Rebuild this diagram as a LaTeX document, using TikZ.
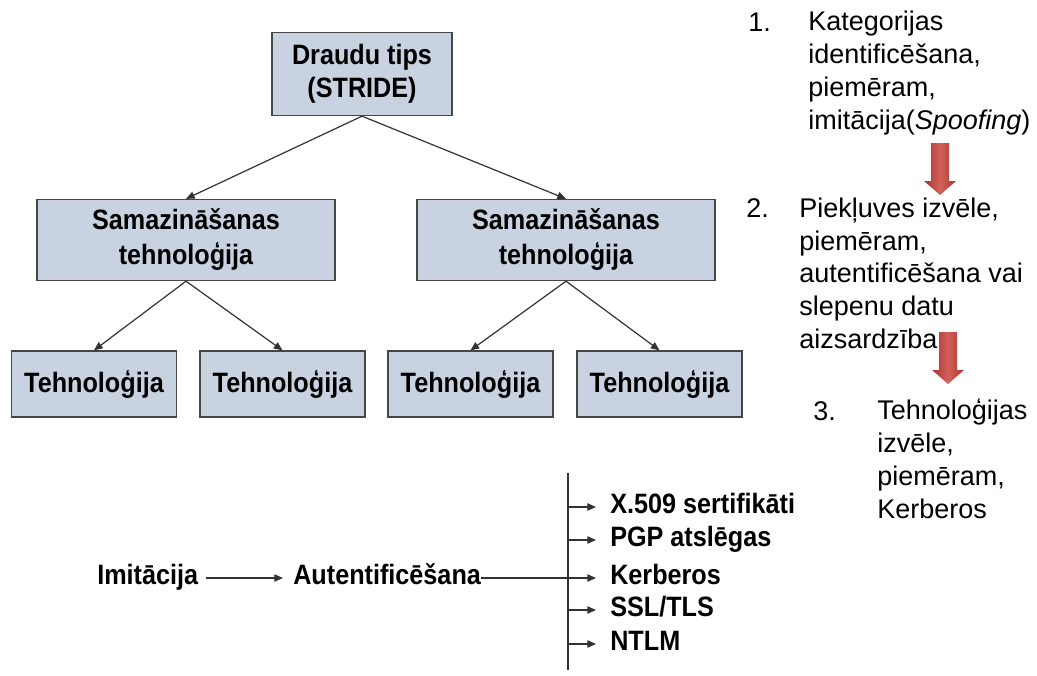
\documentclass[tikz,border=0pt]{standalone}
\usepackage{fontspec}
\setmainfont{Liberation Sans}
\newfontfamily\narrowbold[FakeStretch=0.9]{Liberation Sans Bold}
\usetikzlibrary{arrows.meta}
\definecolor{boxfill}{RGB}{200,210,224}
\definecolor{boxline}{RGB}{70,70,70}
\definecolor{wire}{RGB}{50,50,50}
\definecolor{arrowlight}{RGB}{212,96,90}
\definecolor{arrowdark}{RGB}{168,52,48}

\begin{document}
\begin{tikzpicture}[x=0.75pt,y=-0.75pt,
  treebox/.style={draw=boxline, line width=1pt, fill=boxfill, inner sep=0pt, align=center},
  topbox/.style={treebox, minimum width=135pt, minimum height=62.25pt,
    font=\narrowbold\fontsize{21}{24.75}\selectfont},
  midbox/.style={treebox, minimum width=223.5pt, minimum height=60.75pt,
    font=\narrowbold\fontsize{21}{26.25}\selectfont},
  leafbox/.style={treebox, minimum width=123.75pt, minimum height=49.5pt,
    font=\narrowbold\fontsize{21}{25}\selectfont},
  wirearrow/.style={draw=wire, line width=0.9pt, -{Triangle[length=6.5pt,width=5.5pt]}},
  wireline/.style={draw=wire, line width=0.9pt},
  note/.style={font=\fontsize{20.25}{24.6}\selectfont, inner sep=0pt, align=left, anchor=north west},
  notenum/.style={font=\fontsize{20.25}{24.6}\selectfont, inner sep=0pt, anchor=base west},
  flow/.style={font=\narrowbold\fontsize{21}{25}\selectfont, inner sep=0pt,
    text height=13.5pt, text depth=4.5pt, anchor=west},
  downarrow/.pic={
    \shade[left color=arrowdark, right color=arrowdark, middle color=arrowlight]
      (-9,0) -- (9,0) -- (9,38) -- (16,38) -- (0,52) -- (-16,38) -- (-9,38) -- cycle;
  }
]
\useasboundingbox (0,0) rectangle (1037,675);

% threat tree
\node[topbox] (top) at (362,74) {Draudu tips\\(STRIDE)};
\node[midbox] (m1) at (186,240) {Samazināšanas\\tehnoloģija};
\node[midbox] (m2) at (566,240) {Samazināšanas\\tehnoloģija};
\node[leafbox] (b1) at (94,384) {Tehnoloģija};
\node[leafbox] (b2) at (282.5,384) {Tehnoloģija};
\node[leafbox] (b3) at (470.5,384) {Tehnoloģija};
\node[leafbox] (b4) at (659.5,384) {Tehnoloģija};

\draw[wirearrow] (top.south) -- (m1.north);
\draw[wirearrow] (top.south) -- (m2.north);
\draw[wirearrow] (m1.south) -- (b1.north);
\draw[wirearrow] (m1.south) -- (b2.north);
\draw[wirearrow] (m2.south) -- (b3.north);
\draw[wirearrow] (m2.south) -- (b4.north);

% numbered steps
\node[notenum] (k1) at (748,31) {1.};
\node[note] (n1) at (808,11) {Kategorijas\\identificēšana,\\piemēram,\\imitācija(\textit{Spoofing})};
\node[notenum] (k2) at (746,217) {2.};
\node[note] (n2) at (799,197.5) {Piekļuves izvēle,\\piemēram,\\autentificēšana vai\\slepenu datu\\aizsardzība};
\node[notenum] (k3) at (813,420) {3.};
\node[note] (n3) at (877,399) {Tehnoloģijas\\izvēle,\\piemēram,\\Kerberos};

\pic at (940,143) {downarrow};
\pic at (948,332) {downarrow};

% example: spoofing -> authentication -> technologies
\node[flow] (imit) at (97,578) {Imitācija};
\node[flow] (auth) at (293,578) {Autentificēšana};
\draw[wirearrow, shorten <=6pt, shorten >=7.5pt] (imit.east) -- (auth.west);

\coordinate (spinetop) at (568,473);
\coordinate (spinebot) at (568,670);
\draw[wireline] (spinetop) -- (spinebot);

\node[flow] (t1) at (610,507) {X.509 sertifikāti};
\node[flow] (t2) at (610,540) {PGP atslēgas};
\node[flow] (t3) at (610,578) {Kerberos};
\node[flow] (t4) at (610,610) {SSL/TLS};
\node[flow] (t5) at (610,644) {NTLM};

\draw[wirearrow, shorten >=10.5pt] (spinetop |- t1.west) -- (t1.west);
\draw[wirearrow, shorten >=10.5pt] (spinetop |- t2.west) -- (t2.west);
\draw[wirearrow, shorten >=10.5pt] (auth.east) -- (t3.west);
\draw[wirearrow, shorten >=10.5pt] (spinetop |- t4.west) -- (t4.west);
\draw[wirearrow, shorten >=10.5pt] (spinetop |- t5.west) -- (t5.west);
\end{tikzpicture}
\end{document}
